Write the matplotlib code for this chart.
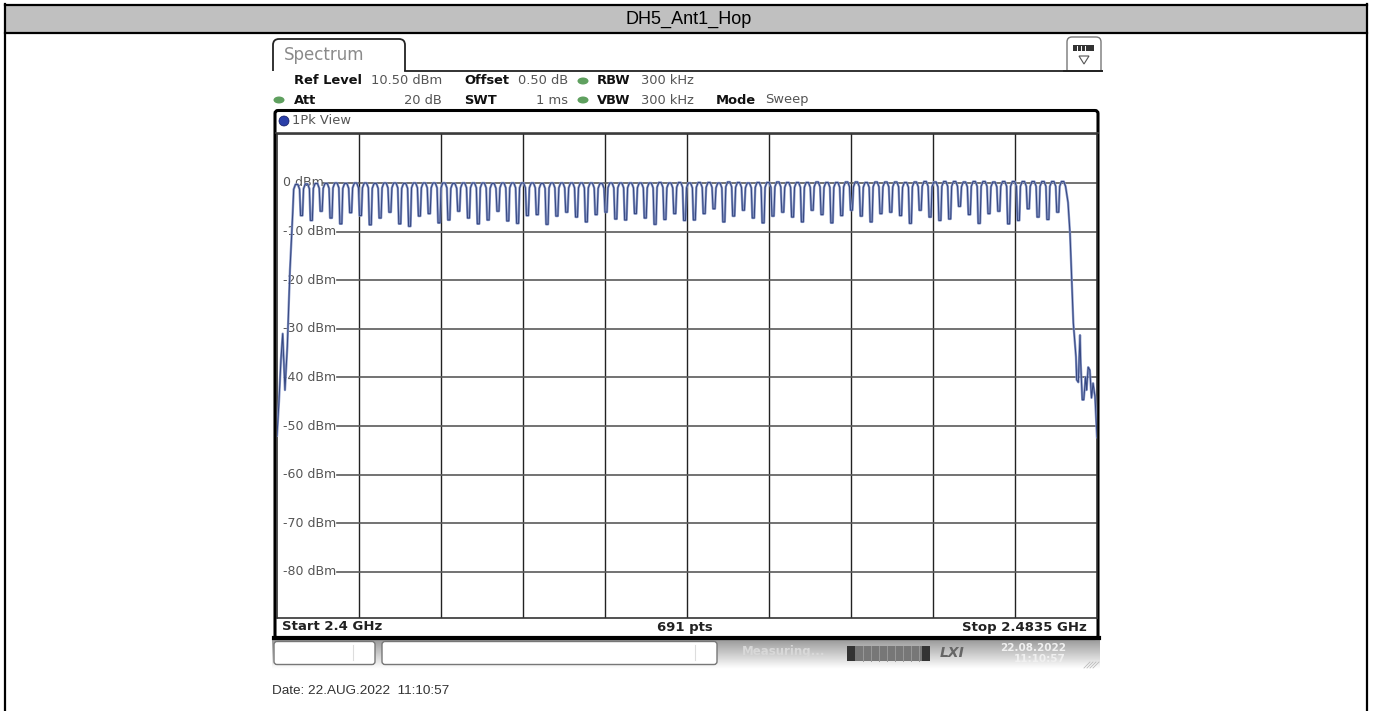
import numpy as np
import matplotlib
matplotlib.use("Agg")
import matplotlib.pyplot as plt
from matplotlib.patches import FancyBboxPatch, Rectangle, Circle, Polygon, Ellipse

#figure is in pixels of the original screenshot
W = 1373
H = 711

title = "DH5_Ant1_Hop"
date_text = "Date: 22.AUG.2022  11:10:57"

#spectrum settings
start_ghz = 2.4
stop_ghz = 2.4835
ref_top = 10.08
ref_bottom = -89.5
db_ticks = [0, -10, -20, -30, -40, -50, -60, -70, -80]
db_labels = ["0 dBm", "-10 dBm", "-20 dBm", "-30 dBm", "-40 dBm", "-50 dBm", "-60 dBm", "-70 dBm", "-80 dBm"]

#hop channels: MHz above start
hop_channels = list(range(2, 81))

#top of every channel in dBm
hop_peaks = [-0.3, -0.2, -0.1, -0.1, 0.0, -0.1, 0.0, 0.0, -0.1, 0.0,
             0.0, -0.1, 0.0, 0.0, 0.0, 0.0, -0.1, 0.0, 0.0, 0.0,
             -0.1, 0.0, 0.0, 0.0, 0.0, -0.1, 0.0, 0.0, 0.0, 0.0,
             0.0, -0.1, 0.0, 0.0, 0.0, 0.0, 0.0, 0.1, 0.0, 0.1,
             0.0, 0.1, 0.1, 0.0, 0.2, 0.1, 0.0, 0.1, 0.1, 0.2,
             0.1, 0.1, 0.1, 0.2, 0.1, 0.1, 0.2, 0.2, 0.1, 0.2,
             0.2, 0.2, 0.1, 0.2, 0.3, 0.2, 0.3, 0.3, 0.2, 0.3,
             0.3, 0.2, 0.3, 0.3, 0.3, 0.3, 0.3, 0.3, 0.3]

#bottom of the dip between two channels in dBm
hop_dips = [-6.7, -7.7, -5.8, -7.2, -8.4, -6.1, -6.7, -8.6, -7.2, -6.0,
            -8.4, -8.9, -6.8, -6.3, -8.2, -7.6, -5.8, -7.2, -8.4, -7.6,
            -5.8, -7.8, -8.3, -6.7, -6.5, -8.5, -6.8, -6.0, -7.0, -8.0,
            -6.5, -6.0, -7.4, -7.6, -6.3, -7.2, -8.5, -7.5, -6.3, -7.7,
            -7.6, -6.3, -5.3, -8.0, -6.8, -5.6, -7.2, -8.2, -6.8, -6.0,
            -7.0, -8.0, -5.6, -6.5, -8.2, -6.7, -5.6, -6.8, -8.0, -6.3,
            -6.0, -6.7, -8.3, -5.6, -7.0, -7.7, -7.4, -4.8, -6.5, -8.3,
            -6.3, -5.8, -8.4, -7.7, -5.3, -7.0, -7.5, -6.0]

#band edges, MHz above start and dBm
left_mhz = [0.0, 0.2, 0.4, 0.58, 0.81, 1.05, 1.32, 1.6]
left_db = [-52.0, -45.0, -36.4, -31.0, -42.6, -33.7, -17.9, -6.2]
right_mhz = [80.55, 80.75, 80.92, 81.09, 81.36, 81.43, 81.6, 81.77, 81.84, 82.0,
             82.15, 82.34, 82.44, 82.6, 82.77, 82.94, 83.1, 83.3, 83.5]
right_db = [-4.0, -10.3, -19.3, -28.8, -35.8, -40.5, -41.0, -31.3, -37.0, -44.6,
            -44.6, -39.9, -42.6, -37.9, -38.5, -44.2, -41.2, -44.0, -52.3]

#build the trace
trace_x = list(left_mhz)
trace_y = list(left_db)
for i in range(len(hop_channels)):
    c = hop_channels[i]
    p = hop_peaks[i]
    trace_x += [c - 0.30, c - 0.12, c + 0.12, c + 0.30]
    trace_y += [p - 1.0, p, p, p - 1.0]
    if i < len(hop_dips):
        trace_x += [c + 0.40, c + 0.60]
        trace_y += [hop_dips[i], hop_dips[i]]
trace_x += right_mhz
trace_y += right_db
trace_x = start_ghz + np.array(trace_x) / 1000.0

INK = "#555555"
mono = "DejaVu Sans"
fs = 9.4

fig = plt.figure(figsize=(W / 100, H / 100), dpi=100, facecolor="white")

#overlay in screenshot pixels for all the chrome
bg = fig.add_axes([0, 0, 1, 1])
bg.set_xlim(0, W)
bg.set_ylim(H, 0)
bg.axis("off")

#table frame and header
bg.add_patch(Rectangle((5, 5), 1362, 28, fc="#c0c0c0", ec="none"))
bg.plot([5, 1367], [5, 5], color="black", lw=1.6)
bg.plot([5, 1367], [33, 33], color="black", lw=1.6)
bg.plot([5, 5], [4, H], color="black", lw=1.6)
bg.plot([1367, 1367], [4, H], color="black", lw=1.6)
bg.text(689, 19.5, title, ha="center", va="center", fontsize=13, family="Liberation Sans", color="black")

#tab
bg.add_patch(FancyBboxPatch((273, 39), 132, 50, boxstyle="round,pad=0,rounding_size=6", fc="white", ec="#222222", lw=1.3))
bg.add_patch(Rectangle((268, 71), 140, 24, fc="white", ec="none"))
bg.plot([405, 1102], [70.5, 70.5], color="#222222", lw=1.3)
bg.text(284, 55, "Spectrum", ha="left", va="center", fontsize=12, family=mono, color="#8a8a8a")

#button top right
bg.add_patch(FancyBboxPatch((1067, 37), 34, 40, boxstyle="round,pad=0,rounding_size=5", fc="white", ec="#777777", lw=1))
bg.add_patch(Rectangle((1064, 71), 40, 10, fc="white", ec="none"))
bg.plot([1064, 1102], [70.5, 70.5], color="#222222", lw=1.3)
bg.add_patch(Rectangle((1073, 45), 21, 6, fc="#333333", ec="none"))
for bx in [1077, 1081, 1085]:
    bg.plot([bx, bx], [46, 50], color="white", lw=0.7)
bg.add_patch(Polygon([(1079, 56), (1089, 56), (1084, 64)], closed=True, fc="white", ec="#555555", lw=0.8))

#settings rows
def bold(x, y, s):
    bg.text(x, y, s, ha="left", va="center", fontsize=fs, family=mono, weight="bold", color="#111111")

def norm(x, y, s, ha="left"):
    bg.text(x, y, s, ha=ha, va="center", fontsize=fs, family=mono, color=INK)

def led(x, y):
    bg.add_patch(Ellipse((x, y), 11, 7, fc="#5fa05f", ec="none"))

bold(294, 81, "Ref Level")
norm(442, 81, "10.50 dBm", "right")
bold(464, 81, "Offset")
norm(568, 81, "0.50 dB", "right")
led(583, 81)
bold(597, 81, "RBW")
norm(641, 81, "300 kHz")
led(279, 100)
bold(294, 100, "Att")
norm(442, 100, "20 dB", "right")
bold(464, 100, "SWT")
norm(568, 100, "1 ms", "right")
led(583, 100)
bold(597, 100, "VBW")
norm(641, 100, "300 kHz")
bold(716, 100, "Mode")
norm(765, 100, "Sweep")

#panel around the diagram
bg.add_patch(FancyBboxPatch((275, 110.5), 823, 528, boxstyle="round,pad=0,rounding_size=3", fc="white", ec="black", lw=2.2))
bg.plot([274, 1099], [638, 638], color="black", lw=3)
bg.add_patch(Circle((284, 121), 5, fc="#2a3fa8", ec="#101a60", lw=0.5))
bg.text(292, 121, "1Pk View", ha="left", va="center", fontsize=fs, family=mono, color=INK)
bg.plot([276, 1098], [133, 133], color="#444444", lw=1.2)

#footer of the diagram
bg.text(282, 627, "Start 2.4 GHz", ha="left", va="center", fontsize=9.5, family=mono, weight="bold", color="#222222")
bg.text(685, 627, "691 pts", ha="center", va="center", fontsize=9.5, family=mono, weight="bold", color="#222222")
bg.text(1087, 627, "Stop 2.4835 GHz", ha="right", va="center", fontsize=9.5, family=mono, weight="bold", color="#222222")

#status bar gradient
grad = np.linspace(0.6, 1.0, 32).reshape(-1, 1)
bg.imshow(grad, extent=(272, 1100, 669, 639), cmap="gray", vmin=0, vmax=1, aspect="auto", zorder=0.5)
bg.set_xlim(0, W)
bg.set_ylim(H, 0)
for x0, wd in [(274, 101), (382, 335)]:
    bg.add_patch(FancyBboxPatch((x0, 641.5), wd, 23, boxstyle="round,pad=0,rounding_size=3", fc="white", ec="#777777", lw=1, zorder=2))
bg.plot([353, 353], [645, 660], color="#dddddd", lw=0.8, zorder=3)
bg.plot([695, 695], [645, 660], color="#dddddd", lw=0.8, zorder=3)
bg.text(742, 652, "Measuring...", ha="left", va="center", fontsize=8.5, family=mono, weight="bold", color="#d8d8d8", zorder=3)
bg.add_patch(FancyBboxPatch((847, 646), 83, 15, boxstyle="round,pad=0,rounding_size=2", fc="#777777", ec="none", zorder=3))
bg.add_patch(Rectangle((847, 646), 8, 15, fc="#333333", ec="none", zorder=4))
bg.add_patch(Rectangle((922, 646), 8, 15, fc="#333333", ec="none", zorder=4))
for sx in range(863, 922, 8):
    bg.plot([sx, sx], [646, 661], color="#999999", lw=0.7, zorder=4)
bg.text(952, 653, "LXI", ha="center", va="center", fontsize=10, family=mono, weight="bold", style="italic", color="#666666", zorder=3)
bg.text(1066, 648, "22.08.2022", ha="right", va="center", fontsize=7.5, family=mono, weight="bold", color="#f0f0f0", zorder=3)
bg.text(1066, 659, "11:10:57", ha="right", va="center", fontsize=7.5, family=mono, weight="bold", color="#f0f0f0", zorder=3)
for hx in range(1084, 1096, 3):
    bg.plot([hx, hx + 6 if hx + 6 < 1100 else 1100], [668, 662], color="#bbbbbb", lw=0.6, zorder=3)

bg.text(272, 691, date_text, ha="left", va="center", fontsize=9.7, family="Liberation Sans", color="#333333")

#the diagram itself
ax = fig.add_axes([277 / W, 1 - 618 / H, 820 / W, 484 / H])
ax.set_xlim(start_ghz, stop_ghz)
ax.set_ylim(ref_bottom, ref_top)
ax.set_facecolor("white")
ax.set_xticks(np.linspace(start_ghz, stop_ghz, 11)[1:-1])
ax.set_yticks([])
ax.tick_params(length=0, labelbottom=False, labelleft=False)
ax.grid(True, axis="x", color="#222222", lw=1.0, zorder=1)
ax.set_axisbelow(True)
for s in ax.spines.values():
    s.set_color("#333333")
    s.set_linewidth(1.2)

#level lines start behind the labels
xt = ax.get_yaxis_transform()
for v, lab in zip(db_ticks, db_labels):
    x_from = 46 / 820 if v == 0 else 60 / 820
    ax.plot([x_from, 1], [v, v], transform=xt, color="#5a5a5a", lw=1.2, zorder=1)
    ax.text(6 / 820, v, lab, transform=xt, ha="left", va="center", fontsize=9, family=mono, color=INK, zorder=2)

ax.plot(trace_x, trace_y, color="#8796c6", lw=1.7, zorder=3, solid_joinstyle="round")
ax.plot(trace_x, trace_y, color="#34467f", lw=0.7, zorder=4, solid_joinstyle="round")

fig.savefig("out.png", dpi=100)
